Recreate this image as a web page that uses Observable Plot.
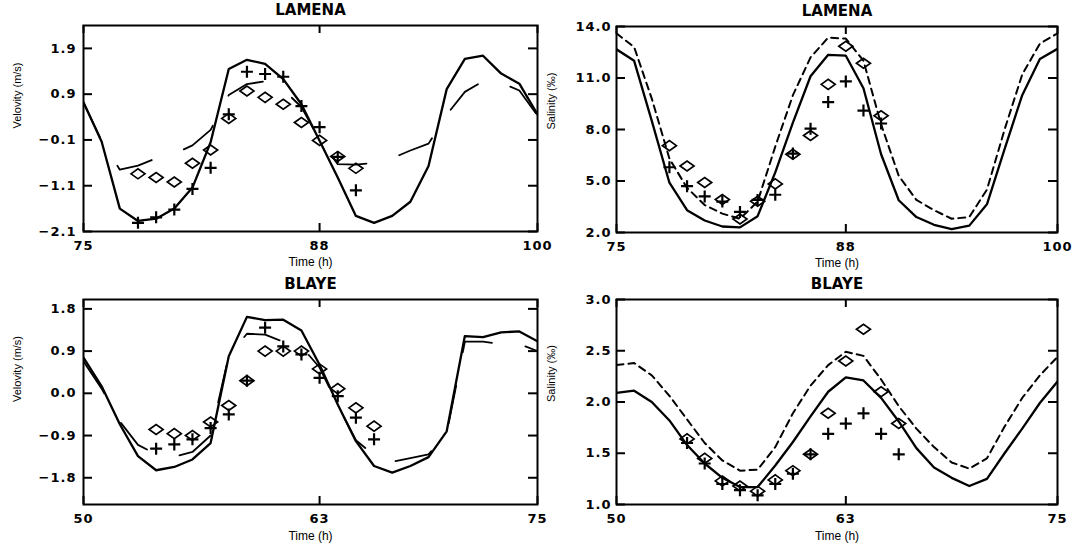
<!DOCTYPE html>
<html><head><meta charset="utf-8">
<script src="https://cdn.jsdelivr.net/npm/d3@7"></script>
<script src="https://cdn.jsdelivr.net/npm/@observablehq/plot@0.6"></script>
<style>
body{margin:0;background:#fff;}
#chart{position:relative;width:1075px;height:546px;overflow:hidden;background:#fff;}
</style></head><body><div id="chart"></div>
<script>
// ---------- DATA ----------
const lamenaHours = [75,76,77,78,79,80,81,82,83,84,85,86,87,88,89,90,91,92,93,94,95,96,97,98,99,100];
const lamenaObsHours = [78,79,80,81,82,83,84,85,86,87,88,89,90];
const blayeHours = [50,51,52,53,54,55,56,57,58,59,60,61,62,63,64,65,66,67,68,69,70,71,72,73,74,75];
const blayeObsHours = [54,55,56,57,58,59,60,61,62,63,64,65,66];

// LAMENA velocity (m/s)
const lamenaVelModel1 = [0.72,-0.14,-1.60,-1.87,-1.82,-1.60,-1.14,-0.15,1.45,1.65,1.56,1.23,0.68,-0.12,-0.92,-1.76,-1.91,-1.76,-1.45,-0.67,1.01,1.67,1.74,1.35,1.13,0.46];
const lamenaVelModel2 = [0.72,-0.12,-0.75,-0.66,-0.50,-0.40,-0.22,0.12,0.88,1.12,1.18,1.00,0.62,-0.10,-0.63,-0.64,-0.60,-0.50,-0.33,-0.18,0.45,0.95,1.18,1.15,0.98,0.43];
const lamenaVelObsPlus = [-1.91,-1.79,-1.62,-1.17,-0.71,0.46,1.39,1.34,1.28,0.64,0.18,-0.47,-1.20];
const lamenaVelObsDiamond = [-0.84,-0.92,-1.02,-0.61,-0.32,0.37,0.97,0.83,0.68,0.28,-0.11,-0.46,-0.72];

// LAMENA salinity (per mil)
const lamenaSalModel1 = [12.67,12.0,8.5,4.9,3.3,2.7,2.35,2.3,2.95,5.5,8.4,11.1,12.35,12.3,10.4,6.56,3.88,2.9,2.45,2.2,2.4,3.64,6.86,10.0,12.1,12.7];
const lamenaSalModel2 = [13.6,12.8,9.8,6.3,4.6,3.6,3.1,2.8,3.8,7.0,10.0,12.2,13.35,13.3,12.0,8.3,5.3,3.9,3.3,2.8,2.9,4.5,8.0,11.2,13.0,13.6];
const lamenaSalObsPlus = [5.8,4.7,4.1,3.8,3.2,3.9,4.2,6.6,8.05,9.6,10.8,9.1,8.35];
const lamenaSalObsDiamond = [7.06,5.87,4.91,3.92,2.79,3.82,4.83,6.56,7.65,10.63,12.85,11.86,8.8];

// BLAYE velocity (m/s)
const blayeVelModel1 = [0.76,0.15,-0.66,-1.34,-1.64,-1.57,-1.41,-1.06,0.79,1.63,1.56,1.57,1.34,0.61,-0.24,-1.02,-1.55,-1.69,-1.55,-1.36,-0.81,1.22,1.20,1.30,1.32,1.11];
const blayeVelModel2 = [0.68,0.10,-0.60,-1.10,-1.30,-1.35,-1.25,-0.90,0.80,1.27,1.25,1.10,1.00,0.55,-0.25,-1.00,-1.32,-1.46,-1.38,-1.30,-0.85,1.10,1.10,1.05,1.05,0.90];
const blayeVelObsPlus = [-1.18,-1.09,-0.98,-0.74,-0.45,0.27,1.40,1.00,0.83,0.33,-0.06,-0.52,-0.98];
const blayeVelObsDiamond = [-0.77,-0.86,-0.90,-0.61,-0.26,0.27,0.90,0.90,0.90,0.52,0.10,-0.31,-0.70];

// BLAYE salinity (per mil)
const blayeSalModel1 = [2.09,2.11,2.00,1.82,1.58,1.40,1.26,1.17,1.17,1.38,1.61,1.86,2.10,2.24,2.21,2.04,1.81,1.55,1.36,1.26,1.18,1.25,1.50,1.74,1.99,2.20];
const blayeSalModel2 = [2.36,2.38,2.26,2.06,1.83,1.60,1.43,1.33,1.34,1.56,1.89,2.16,2.36,2.49,2.45,2.22,1.96,1.74,1.56,1.41,1.35,1.45,1.76,2.04,2.26,2.44];
const blayeSalObsPlus = [1.60,1.40,1.20,1.14,1.09,1.20,1.30,1.49,1.69,1.79,1.89,1.69,1.49];
const blayeSalObsDiamond = [1.64,1.45,1.23,1.18,1.13,1.24,1.33,1.49,1.89,2.40,2.71,2.10,1.79];

// Axis ticks
const lamenaXTicks = [75,88,100];
const blayeXTicks = [50,63,75];
const lamenaVelYTicks = [-2.1,-1.1,-0.1,0.9,1.9];
const lamenaSalYTicks = [2,5,8,11,14];
const blayeVelYTicks = [-1.8,-0.9,0,0.9,1.8];
const blayeSalYTicks = [1.0,1.5,2.0,2.5,3.0];

// ---------- SYMBOLS ----------
const plusSymbol = {draw(ctx, size){const r=Math.sqrt(size/Math.PI);ctx.moveTo(-r,0);ctx.lineTo(r,0);ctx.moveTo(0,-r);ctx.lineTo(0,r);}};
const flatDiamond = {draw(ctx, size){const r=Math.sqrt(size/Math.PI);const w=r*1.4;ctx.moveTo(-w,0);ctx.lineTo(0,-r);ctx.lineTo(w,0);ctx.lineTo(0,r);ctx.closePath();}};

// ---------- PANEL ----------
function panel(cfg){
  const innerW = cfg.width - cfg.ml - cfg.mr;
  const innerH = cfg.height - cfg.mt - cfg.mb;
  const model = cfg.hours.map((t,i)=>({t, a: cfg.m1[i], b: cfg.m2[i]}));
  const obs = cfg.obsHours.map((t,i)=>({t, p: cfg.plus[i], d: cfg.diamond[i]}));
  const svg = Plot.plot({
    width: cfg.width, height: cfg.height,
    marginLeft: cfg.ml, marginRight: cfg.mr, marginTop: cfg.mt, marginBottom: cfg.mb,
    style: {fontFamily: "'DejaVu Sans', sans-serif", fontSize: "13px", fontWeight: "bold", background: "transparent", overflow: "visible"},
    x: {domain: cfg.xDomain, ticks: cfg.xTicks, tickFormat: d3.format("d"), tickSize: 0, tickPadding: 9, label: null},
    y: {domain: cfg.yDomain, ticks: cfg.yTicks, tickFormat: d3.format(".1f"), tickSize: 0, tickPadding: cfg.yPad, label: null},
    marks: [
      Plot.lineY(model, {x: "t", y: "b", stroke: "black", strokeWidth: cfg.dashWidth, strokeDasharray: cfg.dash, clip: true}),
      Plot.lineY(model, {x: "t", y: "a", stroke: "black", strokeWidth: 2.3, clip: true}),
      Plot.dot(obs, {x: "t", y: "d", symbol: flatDiamond, r: 5, stroke: "black", strokeWidth: 1.7, fill: "none"}),
      Plot.dot(obs, {x: "t", y: "p", symbol: plusSymbol, r: 6, stroke: "black", strokeWidth: 2.2, fill: "none"}),
      Plot.tickX(cfg.xTicks, {x: d=>d, insetTop: innerH-8, stroke: "black", strokeWidth: 2}),
      Plot.tickX(cfg.xTicks, {x: d=>d, insetBottom: innerH-8, stroke: "black", strokeWidth: 2}),
      Plot.tickY(cfg.yTicks, {y: d=>d, insetRight: innerW-9, stroke: "black", strokeWidth: 2}),
      Plot.tickY(cfg.yTicks, {y: d=>d, insetLeft: innerW-9, stroke: "black", strokeWidth: 2}),
      Plot.frame({stroke: "black", strokeWidth: 2}),
      Plot.text([cfg.title], {text: d=>d, frameAnchor: "top", dy: -15, fontSize: 15, fontWeight: "bold", lineAnchor: "middle", ariaLabel: "panel title"}),
      Plot.text([cfg.ylabel], {text: d=>d, frameAnchor: "left", dx: cfg.ylabelDx, rotate: -90, lineAnchor: "middle", fontSize: 11, fontWeight: "normal", fontFamily: "'Liberation Sans', Arial, sans-serif", ariaLabel: "axis label"}),
      Plot.text(["Time (h)"], {text: d=>d, frameAnchor: "bottom", dy: cfg.xlabelDy, lineAnchor: "middle", fontSize: 12, fontWeight: "normal", fontFamily: "'Liberation Sans', Arial, sans-serif", ariaLabel: "axis label"})
    ]
  });
  svg.style.position = "absolute";
  svg.style.left = cfg.left + "px";
  svg.style.top = cfg.top + "px";
  svg.style.maxWidth = "none";
  d3.select(svg).selectAll('g[aria-label="x-axis tick label"] text, g[aria-label="y-axis tick label"] text').style("letter-spacing", "1px");
  d3.select(svg).selectAll('g[aria-label="panel title"] text').style("letter-spacing", "1.2px");
  document.getElementById("chart").appendChild(svg);
}

panel({left: 0, top: 0, width: 540, height: 273, ml: 83, mr: 3, mt: 25, mb: 42,
  xDomain: [75,100], xTicks: lamenaXTicks, yDomain: [-2.1, 2.4], yTicks: lamenaVelYTicks, yPad: 7,
  hours: lamenaHours, m1: lamenaVelModel1, m2: lamenaVelModel2, dash: "38,34", dashWidth: 1.8,
  obsHours: lamenaObsHours, plus: lamenaVelObsPlus, diamond: lamenaVelObsDiamond,
  title: "LAMENA", ylabel: "Velovity (m/s)", ylabelDx: -66, xlabelDy: 31});

panel({left: 540, top: 0, width: 535, height: 273, ml: 76, mr: 18, mt: 26, mb: 41,
  xDomain: [75,100], xTicks: lamenaXTicks, yDomain: [2, 14], yTicks: lamenaSalYTicks, yPad: 5,
  hours: lamenaHours, m1: lamenaSalModel1, m2: lamenaSalModel2, dash: "7,5", dashWidth: 2,
  obsHours: lamenaObsHours, plus: lamenaSalObsPlus, diamond: lamenaSalObsDiamond,
  title: "LAMENA", ylabel: "Salinity (‰)", ylabelDx: -65, xlabelDy: 31});

panel({left: 0, top: 273, width: 540, height: 273, ml: 83, mr: 3, mt: 26, mb: 42,
  xDomain: [50,75], xTicks: blayeXTicks, yDomain: [-2.37, 2.0], yTicks: blayeVelYTicks, yPad: 7,
  hours: blayeHours, m1: blayeVelModel1, m2: blayeVelModel2, dash: "38,34", dashWidth: 1.8,
  obsHours: blayeObsHours, plus: blayeVelObsPlus, diamond: blayeVelObsDiamond,
  title: "BLAYE", ylabel: "Velovity (m/s)", ylabelDx: -66, xlabelDy: 32});

panel({left: 540, top: 273, width: 535, height: 273, ml: 76, mr: 18, mt: 26, mb: 42,
  xDomain: [50,75], xTicks: blayeXTicks, yDomain: [1, 3], yTicks: blayeSalYTicks, yPad: 5,
  hours: blayeHours, m1: blayeSalModel1, m2: blayeSalModel2, dash: "7,5", dashWidth: 2,
  obsHours: blayeObsHours, plus: blayeSalObsPlus, diamond: blayeSalObsDiamond,
  title: "BLAYE", ylabel: "Salinity (‰)", ylabelDx: -65, xlabelDy: 32});
</script>
</body></html>
